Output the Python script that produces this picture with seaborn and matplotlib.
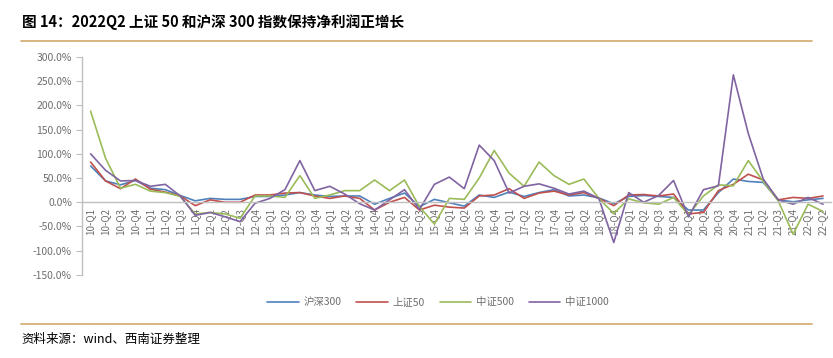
import numpy as np
import pandas as pd
import matplotlib
matplotlib.use("Agg")
import matplotlib.pyplot as plt
from matplotlib.ticker import FuncFormatter
import seaborn as sns

# quarters 2010Q1 .. 2022Q2
quarters = [f"{y:02d}-Q{q}" for y in range(10, 23) for q in range(1, 5)][:50]

hs300 = [75, 44, 36, 45, 29, 26, 14, 3, 8, 6, 6, 12,
         12, 15, 20, 15, 12, 13, 13, -4, 8, 19, -9, 6, -1, -8,
         15, 10, 21, 12, 20, 26, 13, 15, 9, -3, 12, 14, 12, 10,
         -16, -16, 20, 48, 43, 41, 5, 1, 5, 8]
sz50 = [83, 44, 28, 48, 27, 21, 13, -7, 5, 0, 0, 15,
        15, 19, 20, 13, 8, 13, 8, -16, 0, 10, -16, -6, -10, -12,
        13, 15, 28, 8, 19, 23, 15, 20, 8, -7, 15, 16, 13, 17,
        -24, -21, 24, 37, 58, 46, 5, 10, 8, 13]
zz500 = [188, 91, 29, 37, 23, 20, 12, -24, -21, -24, -33, 13,
         13, 10, 55, 8, 15, 24, 24, 46, 24, 46, -9, -45, 8, 6,
         50, 107, 60, 33, 83, 55, 37, 48, 8, -23, 7, -1, -4, 10,
         -26, 13, 36, 34, 86, 43, 3, -66, -4, -19]
zz1000 = [100, 66, 44, 45, 33, 37, 13, -27, -21, -30, -40, -2,
          8, 26, 86, 24, 33, 17, -3, -16, 5, 26, -15, 37, 52, 28,
          118, 86, 19, 33, 38, 29, 17, 23, 8, -83, 20, 0, 14, 45,
          -30, 26, 34, 263, 142, 48, 5, -4, 10, -4]

names = ["沪深300", "上证50", "中证500", "中证1000"]
colors = ["#4F81BD", "#C0504D", "#9BBB59", "#8064A2"]

frames = []
for name, vals in zip(names, [hs300, sz50, zz500, zz1000]):
    frames.append(pd.DataFrame({"idx": np.arange(len(vals)), "value": vals, "series": name}))
df = pd.concat(frames, ignore_index=True)

sns.set_theme(style="white")
plt.rcParams["font.family"] = ["Noto Sans CJK SC", "DejaVu Sans"]

fig = plt.figure(figsize=(8.33, 3.58), dpi=100)
ax = fig.add_axes([0.098, 0.232, 0.899, 0.609])

sns.lineplot(data=df, x="idx", y="value", hue="series", hue_order=names,
             palette=colors, linewidth=1.2, ax=ax, legend=False)

gray = "#6E6E6E"
axcol = "#BFBFBF"
ax.set_xlim(-0.6, 49.5)
ax.set_ylim(-150, 300)
ax.set_yticks(np.arange(-150, 301, 50))
ax.yaxis.set_major_formatter(FuncFormatter(lambda v, p: f"{v:.1f}%"))
ax.set_xticks(np.arange(50))
ax.set_xticklabels(quarters)
ax.set_xticks(np.arange(0.5, 49, 1), minor=True)
ax.tick_params(axis="x", which="major", length=0, pad=4, labelsize=7,
               labelcolor=gray, labelrotation=90)
ax.tick_params(axis="x", which="minor", length=4, color=axcol, width=0.8, direction="out")
ax.tick_params(axis="y", length=4, color=axcol, width=0.8, labelsize=7.5, labelcolor=gray, pad=3, left=True)
ax.set_xlabel("")
ax.set_ylabel("")
for s in ["top", "right"]:
    ax.spines[s].set_visible(False)
ax.spines["bottom"].set_position(("data", 0))
ax.spines["bottom"].set_color(axcol)
ax.spines["left"].set_color(axcol)
ax.spines["bottom"].set_linewidth(1.0)
ax.spines["left"].set_linewidth(1.0)
ax.grid(False)

handles = [plt.Line2D([], [], color=c, linewidth=1.2) for c in colors]
fig.legend(handles, names, loc="center", bbox_to_anchor=(0.526, 0.156), ncol=4,
           frameon=False, fontsize=7.5, handlelength=3.0, handletextpad=0.5,
           columnspacing=1.4, labelcolor=gray)

fig.text(0.026, 0.939, "图 14：2022Q2 上证 50 和沪深 300 指数保持净利润正增长",
         fontsize=10.5, fontweight="bold", color="black", va="center", ha="left")
tan = "#D4A96A"
fig.add_artist(plt.Line2D([0.025, 0.975], [1 - 41 / 358, 1 - 41 / 358], color=tan, linewidth=1.2))
fig.add_artist(plt.Line2D([0.025, 0.975], [1 - 324 / 358, 1 - 324 / 358], color=tan, linewidth=1.2))
fig.text(0.026, 1 - 339 / 358, "资料来源：wind、西南证券整理", fontsize=9, style="italic",
         color="black", va="center", ha="left")

fig.savefig("out.png", dpi=100)
